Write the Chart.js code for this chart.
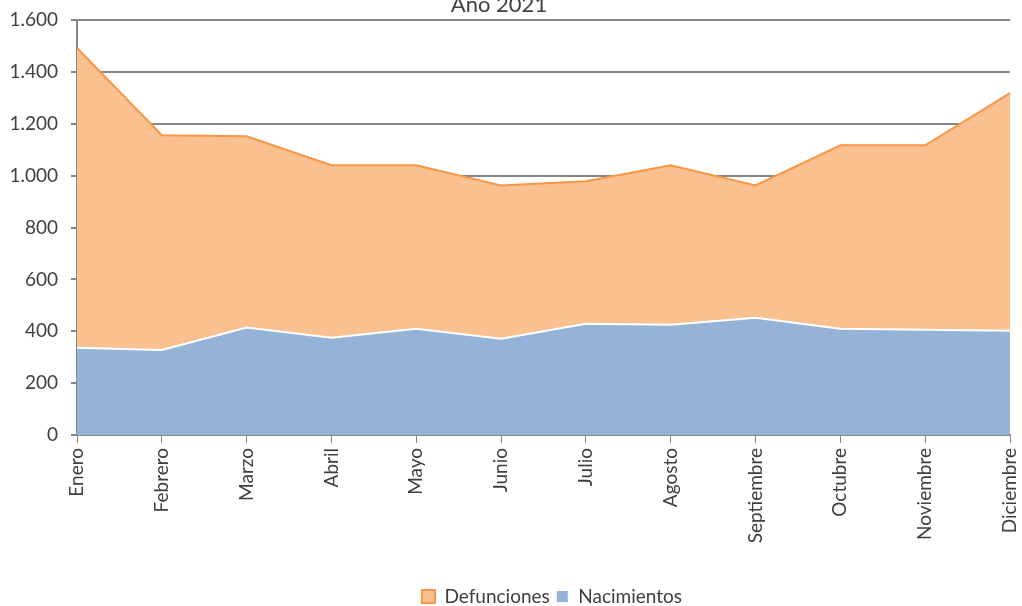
<!DOCTYPE html>
<html>
<head>
<meta charset="utf-8">
<script src="https://cdn.jsdelivr.net/npm/chart.js@4"></script>
<style>
    html, body { margin: 0; padding: 0; background: #fff; }
    #wrap { width: 1022px; height: 606px; }
</style>
</head>
<body>
<div id="wrap"><canvas id="chart" width="1022" height="606"></canvas></div>
<script>
var meses = ["Enero", "Febrero", "Marzo", "Abril", "Mayo", "Junio", "Julio",
    "Agosto", "Septiembre", "Octubre", "Noviembre", "Diciembre"]
var nacimientos = [336, 328, 414, 375, 410, 371, 429, 425, 452, 410, 406, 402]
var defunciones = [1492, 1156, 1152, 1040, 1040, 962, 978, 1040, 962, 1117, 1117, 1318]
var titulo = "Año 2021"

// number with dot as thousands separator
function miles(v) {
    return String(v).replace(/\B(?=(\d{3})+(?!\d))/g, ".")
}

// title sits half out of the canvas, so draw it by hand
const tituloPlugin = {
    id: "tituloPlugin",
    afterDraw(chart) {
        var ctx = chart.ctx
        ctx.save()
        ctx.font = "22px Lato"
        ctx.fillStyle = "#404040"
        ctx.textAlign = "center"
        ctx.textBaseline = "alphabetic"
        ctx.fillText(titulo, 499, 12)
        ctx.restore()
    }
}

// legend is a bit right of the canvas centre in the original
const leyendaPlugin = {
    id: "leyendaPlugin",
    afterLayout(chart) {
        chart.legend.left += 47
        chart.legend.right += 47
    }
}

const data = {
    labels: meses,
    datasets: [
        {
            label: "Nacimientos",
            data: nacimientos,
            backgroundColor: "#95b3d7",
            borderColor: "#ffffff",
            borderWidth: 2,
            fill: "origin"
        },
        {
            label: "Defunciones",
            data: defunciones,
            backgroundColor: "#fac090",
            borderColor: "#f79646",
            borderWidth: 2,
            fill: "origin"
        }
    ]
};

const config = {
    type: "line",
    data,
    options: {
        responsive: false,
        animation: false,
        layout: {
            padding: { top: 20, right: 12, left: 0, bottom: -10 }
        },
        elements: {
            point: { radius: 0 },
            line: { tension: 0 }
        },
        scales: {
            x: {
                grid: {
                    display: true,
                    drawOnChartArea: false,
                    color: "#868686",
                    tickLength: 8
                },
                border: { color: "#868686", width: 2 },
                ticks: {
                    color: "#404040",
                    font: { family: "Lato", size: 19 },
                    minRotation: 90,
                    maxRotation: 90,
                    padding: 5,
                    autoSkip: false
                },
                afterFit(scale) {
                    scale.height = 146
                    scale.paddingLeft = 0
                    scale.paddingRight = 0
                }
            },
            y: {
                min: 0,
                max: 1600,
                ticks: {
                    stepSize: 200,
                    color: "#404040",
                    font: { family: "Lato", size: 19 },
                    padding: 13,
                    callback: function (v) { return miles(v) }
                },
                grid: {
                    color: "#868686",
                    lineWidth: 2,
                    tickLength: 6
                },
                border: { color: "#868686", width: 2 },
                afterFit(scale) {
                    scale.width = 77
                    scale.paddingTop = 0
                    scale.paddingBottom = 0
                }
            }
        },
        plugins: {
            title: { display: false },
            tooltip: { enabled: false },
            legend: {
                display: true,
                position: "bottom",
                reverse: true,
                labels: {
                    color: "#404040",
                    boxWidth: 13,
                    boxHeight: 13,
                    padding: 6,
                    font: { family: "Lato", size: 19 }
                }
            }
        }
    },
    plugins: [tituloPlugin, leyendaPlugin]
};

var chart = new Chart(document.getElementById("chart"), config);
</script>
</body>
</html>
